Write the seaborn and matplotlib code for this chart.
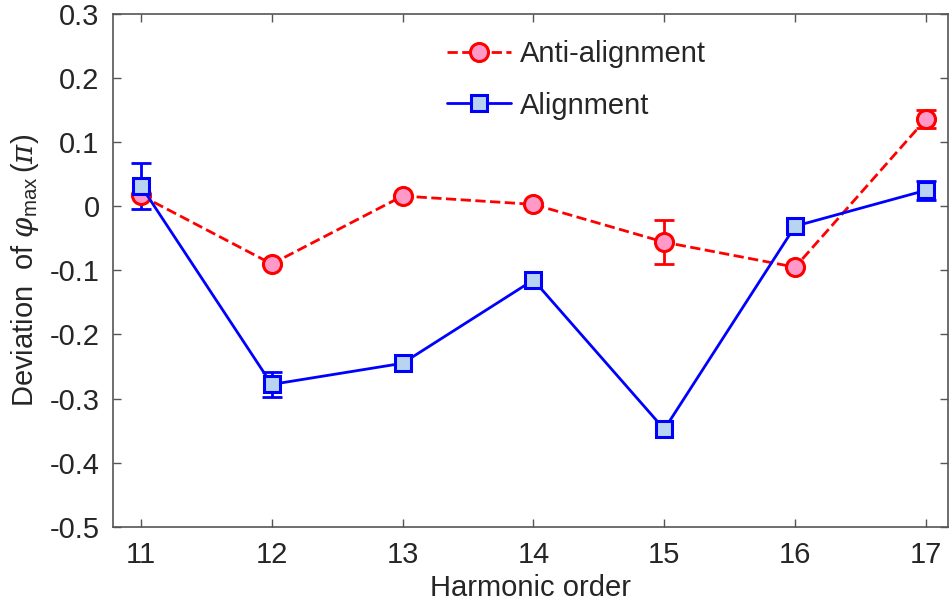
import pandas as pd
import matplotlib
matplotlib.use("Agg")
import matplotlib.pyplot as plt
import numpy as np
import seaborn as sns

# values
orders = [11, 12, 13, 14, 15, 16, 17]
anti = [0.017, -0.090, 0.016, 0.003, -0.056, -0.095, 0.136]
anti_err = [0.0, 0.0, 0.0, 0.0, 0.034, 0.0, 0.014]
align = [0.032, -0.278, -0.245, -0.115, -0.348, -0.031, 0.025]
align_err = [0.036, 0.019, 0.0, 0.0, 0.0, 0.0, 0.015]
yticks = [0.3, 0.2, 0.1, 0, -0.1, -0.2, -0.3, -0.4, -0.5]
ytick_labels = ["0.3", "0.2", "0.1", "0", "-0.1", "-0.2", "-0.3", "-0.4", "-0.5"]

df = pd.DataFrame({
    "order": orders * 2,
    "dev": anti + align,
    "err": anti_err + align_err,
    "kind": ["Anti-alignment"] * 7 + ["Alignment"] * 7,
})

sns.set_style("white")
plt.rcParams['font.family'] = ['Liberation Sans', 'DejaVu Sans']
plt.rcParams['mathtext.fontset'] = 'custom'
plt.rcParams['mathtext.rm'] = 'Liberation Sans'
plt.rcParams['mathtext.it'] = 'DejaVu Serif:italic'

fig, ax = plt.subplots(figsize=(9.53, 6.11), dpi=100)
fig.subplots_adjust(left=0.119, right=0.995, top=0.977, bottom=0.138)

styles = {
    "Anti-alignment": dict(color="#ff0000", mfc="#ff99c8", marker="o", ls="--", ms=13),
    "Alignment": dict(color="#0000ff", mfc="#b8d4f0", marker="s", ls="-", ms=12),
}
for kind in ["Anti-alignment", "Alignment"]:
    d = df[df.kind == kind]
    st = styles[kind]
    sns.lineplot(data=d, x="order", y="dev", ax=ax, color=st["color"], linestyle=st["ls"],
                 linewidth=2, marker=st["marker"], markersize=st["ms"],
                 markerfacecolor=st["mfc"], markeredgecolor=st["color"], markeredgewidth=2.2,
                 label=kind, zorder=3, dashes=(4.5, 2.8) if st["ls"] == "--" else "")
    e = d[d.err > 0]
    ax.errorbar(e.order, e.dev, yerr=e.err, fmt="none", ecolor=st["color"],
                elinewidth=2, capsize=7, capthick=2, zorder=2)

ax.set_xlim(10.79, 17.17)
ax.set_ylim(-0.5, 0.3)
ax.set_xticks(orders)
ax.set_xticklabels([str(o) for o in orders], fontsize=21)
ax.set_yticks(yticks)
ax.set_yticklabels(ytick_labels, fontsize=21)
ax.tick_params(direction="in", length=6, width=1, color="#555555",
               top=True, right=True, bottom=True, left=True, pad=10)
for s in ax.spines.values():
    s.set_color("#555555")
    s.set_linewidth(1.2)

ax.set_xlabel("Harmonic order", fontsize=21, labelpad=4)
ax.set_ylabel(r"Deviation  of $\varphi_{\rm max}\,(\pi)$", fontsize=21, labelpad=6)

handles, labels = ax.get_legend_handles_labels()
ax.legend(handles, labels, loc="upper left", bbox_to_anchor=(0.368, 1.0), frameon=False,
          fontsize=21, handlelength=2.2, labelspacing=0.8, handletextpad=0.3)

plt.savefig("out.png", dpi=100)
